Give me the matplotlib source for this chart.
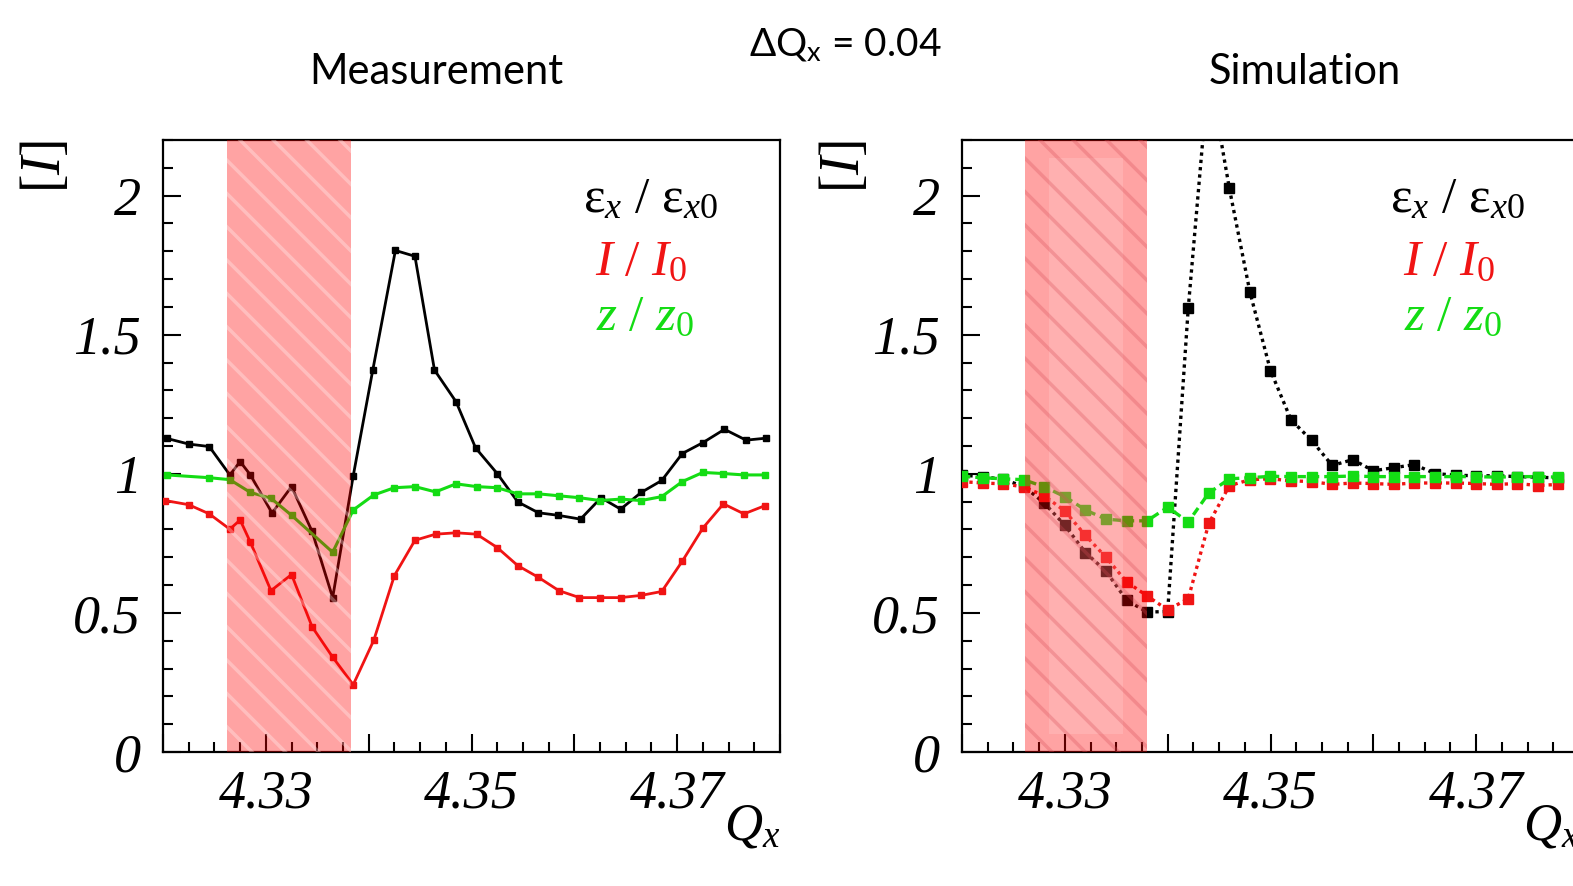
import matplotlib
matplotlib.use("Agg")
import matplotlib.pyplot as plt
from matplotlib.ticker import MultipleLocator, FuncFormatter

plt.rcParams['mathtext.fontset'] = 'custom'
plt.rcParams['mathtext.rm'] = 'Liberation Serif'
plt.rcParams['mathtext.it'] = 'Liberation Serif:italic'
plt.rcParams['font.family'] = ['Liberation Serif', 'DejaVu Sans']

meas_q_black = [4.3204, 4.3225, 4.3245, 4.3265, 4.3275, 4.3285, 4.3306, 4.3325, 4.3345, 4.3365,
                4.3385, 4.3404, 4.3426, 4.3445, 4.3464, 4.3485, 4.3504, 4.3525, 4.3545, 4.3565,
                4.3584, 4.3606, 4.3626, 4.3645, 4.3665, 4.3685, 4.3705, 4.3725, 4.3746, 4.3767, 4.3786]
meas_emit = [1.127, 1.107, 1.098, 0.996, 1.044, 0.996, 0.859, 0.954, 0.793, 0.555,
             0.993, 1.373, 1.803, 1.782, 1.373, 1.259, 1.093, 1.001, 0.899, 0.860,
             0.851, 0.837, 0.914, 0.873, 0.933, 0.976, 1.073, 1.112, 1.160, 1.121, 1.128]

meas_q_red = [4.3202, 4.3225, 4.3245, 4.3265, 4.3275, 4.3285, 4.3305, 4.3325, 4.3345, 4.3365,
              4.3385, 4.3405, 4.3425, 4.3445, 4.3465, 4.3485, 4.3505, 4.3525, 4.3545, 4.3565,
              4.3585, 4.3605, 4.3625, 4.3645, 4.3665, 4.3685, 4.3705, 4.3725, 4.3745, 4.3765, 4.3785]
meas_int = [0.904, 0.889, 0.856, 0.801, 0.834, 0.754, 0.580, 0.638, 0.450, 0.341,
            0.242, 0.402, 0.634, 0.761, 0.783, 0.788, 0.783, 0.735, 0.670, 0.628,
            0.580, 0.555, 0.555, 0.555, 0.563, 0.577, 0.686, 0.805, 0.892, 0.856, 0.885]

meas_q_green = [4.3204, 4.3245, 4.3265, 4.3285, 4.3305, 4.3325, 4.3365, 4.3385, 4.3405, 4.3425,
                4.3445, 4.3465, 4.3485, 4.3505, 4.3525, 4.3545, 4.3565, 4.3585, 4.3605, 4.3625,
                4.3645, 4.3665, 4.3685, 4.3705, 4.3725, 4.3745, 4.3765, 4.3785]
meas_len = [0.996, 0.986, 0.979, 0.933, 0.912, 0.851, 0.718, 0.870, 0.924, 0.950,
            0.954, 0.935, 0.964, 0.954, 0.950, 0.928, 0.928, 0.921, 0.914, 0.904,
            0.909, 0.904, 0.918, 0.972, 1.005, 1.001, 0.996, 0.996]

# simulation data
sim_q = [4.320, 4.322, 4.324, 4.326, 4.328, 4.330, 4.332, 4.334, 4.336, 4.338,
         4.340, 4.342, 4.344, 4.346, 4.348, 4.350, 4.352, 4.354, 4.356, 4.358,
         4.360, 4.362, 4.364, 4.366, 4.368, 4.370, 4.372, 4.374, 4.376, 4.378]
sim_emit = [0.995, 0.990, 0.980, 0.955, 0.895, 0.815, 0.717, 0.650, 0.546, 0.503,
            0.505, 1.595, 2.450, 2.026, 1.653, 1.371, 1.194, 1.120, 1.030, 1.051,
            1.011, 1.022, 1.033, 1.001, 0.995, 0.993, 0.993, 0.990, 0.988, 0.985]
sim_int = [0.972, 0.967, 0.964, 0.953, 0.921, 0.866, 0.779, 0.700, 0.612, 0.561,
           0.511, 0.551, 0.822, 0.957, 0.979, 0.982, 0.975, 0.972, 0.962, 0.967,
           0.965, 0.962, 0.967, 0.967, 0.967, 0.965, 0.962, 0.965, 0.958, 0.962]
sim_len = [0.991, 0.986, 0.982, 0.979, 0.953, 0.918, 0.870, 0.837, 0.831, 0.831,
           0.880, 0.827, 0.931, 0.982, 0.986, 0.991, 0.990, 0.990, 0.990, 0.992,
           0.990, 0.990, 0.990, 0.990, 0.990, 0.990, 0.988, 0.990, 0.990, 0.988]

band_meas = (4.3262, 4.3383)
band_sim = (4.3261, 4.3380)

RED = '#f01414'
GREEN = '#14dc14'

fig = plt.figure(figsize=(15.73, 8.86), dpi=100)
ax1 = fig.add_axes([163 / 1573, 134 / 886, 617 / 1573, 612 / 886])
ax2 = fig.add_axes([962 / 1573, 134 / 886, 617 / 1573, 612 / 886])


def style_axis(ax):
    ax.set_xlim(4.32, 4.38)
    ax.set_ylim(0, 2.2)
    ax.xaxis.set_major_locator(MultipleLocator(0.01))
    ax.xaxis.set_minor_locator(MultipleLocator(0.0025))
    ax.yaxis.set_major_locator(MultipleLocator(0.5))
    ax.yaxis.set_minor_locator(MultipleLocator(0.1))
    shown = ['4.33', '4.35', '4.37']
    ax.xaxis.set_major_formatter(FuncFormatter(
        lambda v, p: f'{v:.2f}' if f'{v:.2f}' in shown else ''))
    ax.yaxis.set_major_formatter(FuncFormatter(lambda v, p: f'{v:g}'))
    ax.tick_params(which='both', direction='in', top=False, right=False, width=1.5)
    ax.tick_params(which='major', length=13)
    ax.tick_params(which='minor', length=7)
    ax.tick_params(axis='y', which='major', pad=16)
    ax.tick_params(axis='x', which='major', pad=12)
    for lab in ax.get_xticklabels() + ax.get_yticklabels():
        lab.set_fontstyle('italic')
        lab.set_fontsize(39)
    for sp in ax.spines.values():
        sp.set_linewidth(1.6)
    ax.text(-0.19, 1.0, r'$[I]$', transform=ax.transAxes, rotation=90,
            ha='center', va='top', fontsize=40)
    ax.text(1.0, -0.082, r'$Q_x$', transform=ax.transAxes,
            ha='right', va='top', fontsize=38)


for ax in (ax1, ax2):
    style_axis(ax)

# measurement
ax1.plot(meas_q_black, meas_emit, '-', color='black', lw=2.0, marker='s', ms=5, zorder=3)
ax1.plot(meas_q_red, meas_int, '-', color=RED, lw=2.0, marker='s', ms=5, zorder=3)
ax1.plot(meas_q_green, meas_len, '-', color=GREEN, lw=2.2, marker='s', ms=5, zorder=3)
ax1.axvspan(*band_meas, facecolor='red', alpha=0.36, lw=0, zorder=4)
plt.rcParams['hatch.linewidth'] = 2.5
ax1.axvspan(*band_meas, facecolor='none', edgecolor=(1, 1, 1, 0.3), hatch='\\',
            lw=0, zorder=5)

# simulation
ax2.plot(sim_q, sim_emit, color='black', lw=2.4, ls=(0, (1, 1.2)), marker='s', ms=7, zorder=3)
ax2.plot(sim_q, sim_int, color=RED, lw=2.4, ls=(0, (1, 1.2)), marker='s', ms=7, zorder=3)
ax2.plot(sim_q, sim_len, color=GREEN, lw=2.4, ls=(0, (2.5, 1.5)), marker='s', ms=7, zorder=3)
ax2.axvspan(*band_sim, facecolor='red', alpha=0.36, lw=0, zorder=4)
ax2.axvspan(4.3285, 4.3357, ymin=0.03, ymax=0.97, facecolor='white', alpha=0.15, lw=0, zorder=4)
ax2.axvspan(*band_sim, facecolor='none', edgecolor=(0.85, 0.3, 0.35, 0.3), hatch='\\',
            lw=0, zorder=5)

# legend labels
for ax, x0 in ((ax1, 0.68), (ax2, 0.694)):
    ax.text(x0, 1.94, r'$\mathrm{\varepsilon}_x\ /\ \mathrm{\varepsilon}_{x0}$',
            transform=ax.get_yaxis_transform(), fontsize=37, color='black', va='baseline')
    ax.text(x0 + 0.02, 1.716, r'$I\ /\ I_{\mathit{0}}$',
            transform=ax.get_yaxis_transform(), fontsize=37, color=RED, va='baseline')
    ax.text(x0 + 0.022, 1.518, r'$z\ /\ z_{\mathit{0}}$',
            transform=ax.get_yaxis_transform(), fontsize=37, color=GREEN, va='baseline')

# titles
tfont = dict(family=['Lato', 'DejaVu Sans'], ha='center', va='center')
fig.text(436 / 1573, 1 - 72 / 886, 'Measurement', fontsize=30, **tfont)
fig.text(845 / 1573, 1 - 45 / 886, r'ΔQ$_\mathregular{x}$ = 0.04', fontsize=28, **tfont)
fig.text(1305 / 1573, 1 - 72 / 886, 'Simulation', fontsize=30, **tfont)

fig.savefig('out.png', dpi=100)
